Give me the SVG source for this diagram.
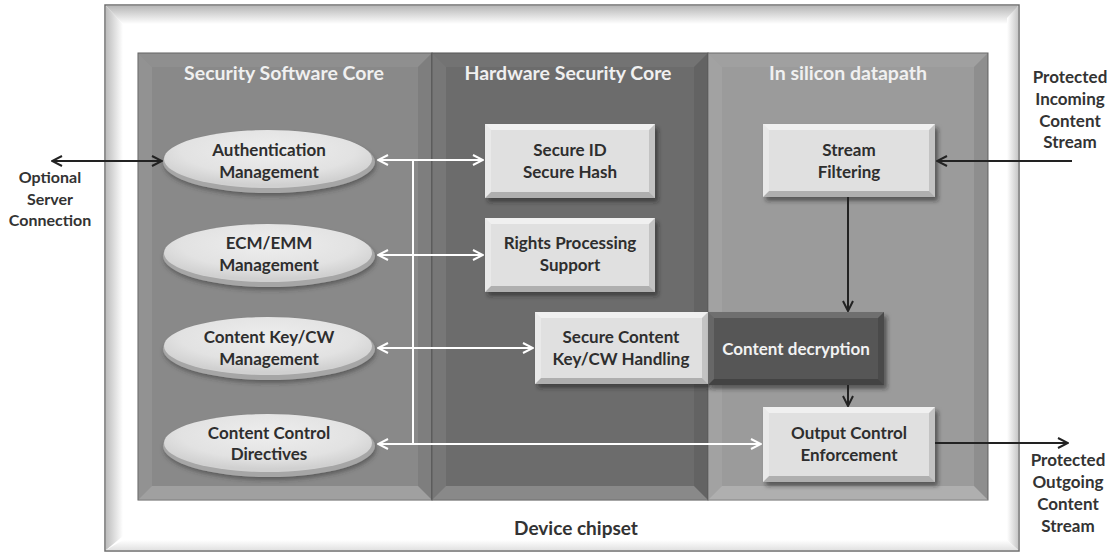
<svg xmlns="http://www.w3.org/2000/svg" width="1114" height="553" viewBox="0 0 1114 553">
<defs>
<style>
text{font-family:Lato,"Liberation Sans",Arial,sans-serif;font-weight:bold;text-anchor:middle}
.lbl{font-size:17px;fill:#333}
.dark{font-size:17px;fill:#2e2e2e}
.ttl{font-size:19.5px;fill:#f0f0f0}
.wt{font-size:17px;fill:#f2f2f2}
.bt{fill:#fff;opacity:.5}
.bl{fill:#fff;opacity:.3}
.bb{fill:#000;opacity:.22}
.br{fill:#000;opacity:.13}
.pt{fill:#fff;opacity:.05}
.pl{fill:#fff;opacity:.08}
.pb{fill:#fff;opacity:.2}
.pr{fill:#000;opacity:.08}
.wl{stroke:#fff;stroke-width:2;fill:none}
.kl{stroke:#222;stroke-width:2;fill:none}
.rim{fill:#a6a6a6}
.face{fill:url(#eg)}
</style>
<linearGradient id="gt" x1="0" y1="0" x2="0" y2="1"><stop offset="0" stop-color="#b8b8b8"/><stop offset="1" stop-color="#fff"/></linearGradient>
<linearGradient id="gl" x1="0" y1="0" x2="1" y2="0"><stop offset="0" stop-color="#bdbdbd"/><stop offset="1" stop-color="#fff"/></linearGradient>
<linearGradient id="gr" x1="0" y1="0" x2="1" y2="0"><stop offset="0" stop-color="#fff"/><stop offset="1" stop-color="#c8c8c8"/></linearGradient>
<linearGradient id="gb" x1="0" y1="0" x2="0" y2="1"><stop offset="0" stop-color="#fff"/><stop offset="1" stop-color="#e2e2e2"/></linearGradient>
<radialGradient id="eg" cx="0.5" cy="0.35" r="0.6"><stop offset="0" stop-color="#eeeeee"/><stop offset="0.7" stop-color="#e2e2e2"/><stop offset="1" stop-color="#d0d0d0"/></radialGradient>
<filter id="sh" x="-10%" y="-20%" width="125%" height="150%"><feDropShadow dx="3" dy="4" stdDeviation="2" flood-color="#222" flood-opacity="0.55"/></filter>
<filter id="esh" x="-10%" y="-30%" width="125%" height="170%"><feDropShadow dx="1" dy="3" stdDeviation="2" flood-color="#333" flood-opacity="0.5"/></filter>
<marker id="wa" viewBox="0 0 12 12" refX="11" refY="6" markerWidth="12" markerHeight="12" markerUnits="userSpaceOnUse" orient="auto-start-reverse"><path d="M1,1 L11,6 L1,11" fill="none" stroke="#fff" stroke-width="2"/></marker>
<marker id="ka" viewBox="0 0 12 12" refX="11" refY="6" markerWidth="12" markerHeight="12" markerUnits="userSpaceOnUse" orient="auto-start-reverse"><path d="M1,1 L11,6 L1,11" fill="none" stroke="#222" stroke-width="2"/></marker>
</defs>

<g id="device-chipset">
<rect x="105" y="5" width="914" height="546" fill="#fff" stroke="#6e6e6e" stroke-width="1.5"/>
<polygon points="106,6 1018,6 1006,24 123,24" fill="url(#gt)"/>
<polygon points="106,6 106,550 123,536 123,24" fill="url(#gl)"/>
<polygon points="1018,6 1018,550 1007,540 1007,18" fill="url(#gr)"/>
<polygon points="106,550 1018,550 1007,540 123,540" fill="url(#gb)"/>
<text class="lbl" x="576" y="535" style="font-size:19px">Device chipset</text>
</g>

<g id="security-software-core">
<rect x="138" y="53" width="294" height="447" fill="#898989" stroke="#5e5e5e" stroke-width="1"/>
<polygon class="pt" points="138,53 432,53 418,67 152,67"/>
<polygon class="pr" points="432,53 432,500 418,486 418,67"/>
<polygon class="pb" points="138,500 432,500 418,486 152,486"/>
<polygon class="pl" points="138,53 138,500 152,486 152,67"/>
<text class="ttl" x="284" y="80">Security Software Core</text>
</g>
<g id="hardware-security-core">
<rect x="432" y="53" width="276" height="447" fill="#6c6c6c" stroke="#4e4e4e" stroke-width="1"/>
<polygon class="pt" points="432,53 708,53 694,67 446,67"/>
<polygon class="pr" points="708,53 708,500 694,486 694,67"/>
<polygon class="pb" points="432,500 708,500 694,486 446,486"/>
<polygon class="pl" points="432,53 432,500 446,486 446,67"/>
<text class="ttl" x="568" y="80">Hardware Security Core</text>
</g>
<g id="in-silicon-datapath">
<rect x="708" y="53" width="280" height="447" fill="#9b9b9b" stroke="#666" stroke-width="1"/>
<polygon class="pt" points="708,53 988,53 974,67 722,67"/>
<polygon class="pr" points="988,53 988,500 974,486 974,67"/>
<polygon class="pb" points="708,500 988,500 974,486 722,486"/>
<polygon class="pl" points="708,53 708,500 722,486 722,67"/>
<text class="ttl" x="848" y="80">In silicon datapath</text>
</g>

<g id="authentication-management">
<ellipse class="rim" cx="269" cy="162" rx="106" ry="31" filter="url(#esh)"/>
<ellipse class="face" cx="268" cy="159" rx="104" ry="29"/>
<text class="dark" x="269" y="156">Authentication</text>
<text class="dark" x="269" y="178">Management</text>
</g>
<g id="ecm-emm-management">
<ellipse class="rim" cx="269" cy="256" rx="106" ry="31" filter="url(#esh)"/>
<ellipse class="face" cx="268" cy="253" rx="104" ry="29"/>
<text class="dark" x="269" y="249">ECM/EMM</text>
<text class="dark" x="269" y="271">Management</text>
</g>
<g id="content-key-cw-management">
<ellipse class="rim" cx="269" cy="349" rx="106" ry="31" filter="url(#esh)"/>
<ellipse class="face" cx="268" cy="346" rx="104" ry="29"/>
<text class="dark" x="269" y="343">Content Key/CW</text>
<text class="dark" x="269" y="365">Management</text>
</g>
<g id="content-control-directives">
<ellipse class="rim" cx="269" cy="446" rx="106" ry="31" filter="url(#esh)"/>
<ellipse class="face" cx="268" cy="443" rx="104" ry="29"/>
<text class="dark" x="269" y="439">Content Control</text>
<text class="dark" x="269" y="460">Directives</text>
</g>

<g id="secure-id">
<rect x="485" y="124" width="170" height="74" fill="#e0e0e0" filter="url(#sh)"/>
<polygon class="bt" points="485,124 655,124 649,130 491,130"/>
<polygon class="br" points="655,124 655,198 649,192 649,130"/>
<polygon class="bb" points="485,198 655,198 649,192 491,192"/>
<polygon class="bl" points="485,124 485,198 491,192 491,130"/>
<text class="dark" x="570" y="156">Secure ID</text>
<text class="dark" x="570" y="178">Secure Hash</text>
</g>
<g id="rights-processing">
<rect x="485" y="218" width="170" height="74" fill="#e0e0e0" filter="url(#sh)"/>
<polygon class="bt" points="485,218 655,218 649,224 491,224"/>
<polygon class="br" points="655,218 655,292 649,286 649,224"/>
<polygon class="bb" points="485,292 655,292 649,286 491,286"/>
<polygon class="bl" points="485,218 485,292 491,286 491,224"/>
<text class="dark" x="570" y="249">Rights Processing</text>
<text class="dark" x="570" y="271">Support</text>
</g>
<g id="secure-content-key">
<rect x="535" y="312" width="173" height="72" fill="#e0e0e0" filter="url(#sh)"/>
<polygon class="bt" points="535,312 708,312 702,318 541,318"/>
<polygon class="br" points="708,312 708,384 702,378 702,318"/>
<polygon class="bb" points="535,384 708,384 702,378 541,378"/>
<polygon class="bl" points="535,312 535,384 541,378 541,318"/>
<text class="dark" x="621" y="343">Secure Content</text>
<text class="dark" x="621" y="365">Key/CW Handling</text>
</g>
<g id="content-decryption">
<rect x="708" y="312" width="176" height="73" fill="#565656" filter="url(#sh)"/>
<polygon class="bt" points="708,312 884,312 878,318 714,318" style="opacity:.15"/>
<polygon class="br" points="884,312 884,385 878,379 878,318"/>
<polygon class="bb" points="708,385 884,385 878,379 714,379"/>
<polygon class="bl" points="708,312 708,385 714,379 714,318" style="opacity:.1"/>
<text class="wt" x="796" y="355">Content decryption</text>
</g>
<g id="stream-filtering">
<rect x="763" y="124" width="172" height="73" fill="#e0e0e0" filter="url(#sh)"/>
<polygon class="bt" points="763,124 935,124 929,130 769,130"/>
<polygon class="br" points="935,124 935,197 929,191 929,130"/>
<polygon class="bb" points="763,197 935,197 929,191 769,191"/>
<polygon class="bl" points="763,124 763,197 769,191 769,130"/>
<text class="dark" x="849" y="156">Stream</text>
<text class="dark" x="849" y="178">Filtering</text>
</g>
<g id="output-control">
<rect x="763" y="407" width="172" height="75" fill="#e0e0e0" filter="url(#sh)"/>
<polygon class="bt" points="763,407 935,407 929,413 769,413"/>
<polygon class="br" points="935,407 935,482 929,476 929,413"/>
<polygon class="bb" points="763,482 935,482 929,476 769,476"/>
<polygon class="bl" points="763,407 763,482 769,476 769,413"/>
<text class="dark" x="849" y="439">Output Control</text>
<text class="dark" x="849" y="461">Enforcement</text>
</g>

<g id="optional-server-label">
<text class="lbl" x="50" y="183" style="font-size:16px">Optional</text>
<text class="lbl" x="50" y="205" style="font-size:16px">Server</text>
<text class="lbl" x="50" y="226" style="font-size:16px">Connection</text>
</g>
<g id="incoming-label">
<text class="lbl" x="1070" y="83">Protected</text>
<text class="lbl" x="1070" y="105">Incoming</text>
<text class="lbl" x="1070" y="127">Content</text>
<text class="lbl" x="1070" y="148">Stream</text>
</g>
<g id="outgoing-label">
<text class="lbl" x="1068" y="466">Protected</text>
<text class="lbl" x="1068" y="488">Outgoing</text>
<text class="lbl" x="1068" y="510">Content</text>
<text class="lbl" x="1068" y="532">Stream</text>
</g>

<g id="connectors">
<line class="wl" x1="413" y1="160" x2="413" y2="444"/>
<line class="wl" x1="378" y1="160" x2="483" y2="160" marker-start="url(#wa)" marker-end="url(#wa)"/>
<line class="wl" x1="378" y1="255" x2="483" y2="255" marker-start="url(#wa)" marker-end="url(#wa)"/>
<line class="wl" x1="378" y1="348" x2="533" y2="348" marker-start="url(#wa)" marker-end="url(#wa)"/>
<line class="wl" x1="378" y1="444" x2="761" y2="444" marker-start="url(#wa)" marker-end="url(#wa)"/>
<line class="kl" x1="52" y1="161" x2="162" y2="161" marker-start="url(#ka)" marker-end="url(#ka)"/>
<line class="kl" x1="1072" y1="161" x2="937" y2="161" marker-end="url(#ka)"/>
<line class="kl" x1="848" y1="197" x2="848" y2="311" marker-end="url(#ka)"/>
<line class="kl" x1="848" y1="385" x2="848" y2="406" marker-end="url(#ka)"/>
<line class="kl" x1="935" y1="443" x2="1068" y2="443" marker-end="url(#ka)"/>
</g>
</svg>
